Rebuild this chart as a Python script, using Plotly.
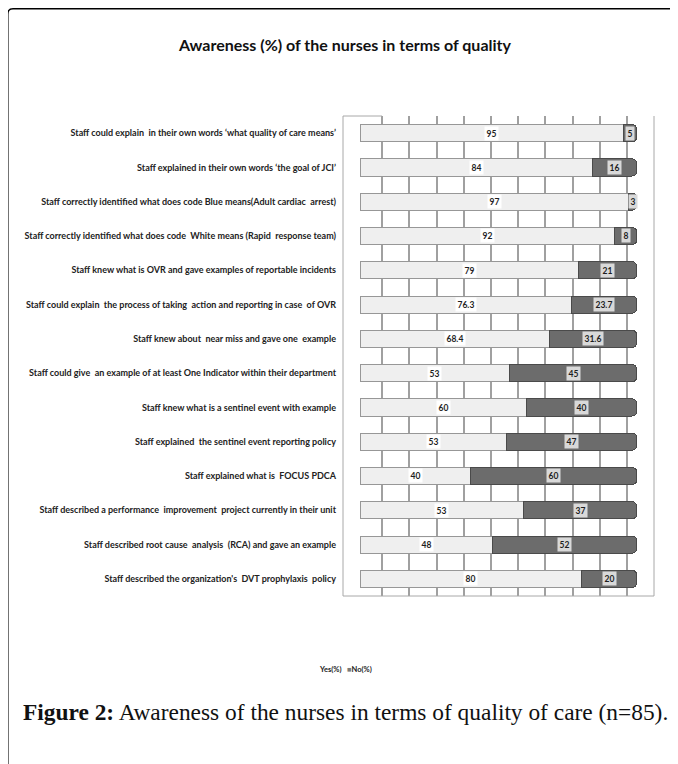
import plotly.graph_objects as go

categories = [
    "Staff could explain  in their own words \u2018what quality of care means\u2019",
    "Staff explained in their own words \u2018the goal of JCI\u2019",
    "Staff correctly identified what does code Blue means(Adult cardiac  arrest)",
    "Staff correctly identified what does code  White means (Rapid  response team)",
    "Staff knew what is OVR and gave examples of reportable incidents",
    "Staff could explain  the process of taking  action and reporting in case  of OVR",
    "Staff knew about  near miss and gave one  example",
    "Staff could give  an example of at least One Indicator within their department",
    "Staff knew what is a sentinel event with example",
    "Staff explained  the sentinel event reporting policy",
    "Staff explained what is  FOCUS PDCA",
    "Staff described a performance  improvement  project currently in their unit",
    "Staff described root cause  analysis  (RCA) and gave an example",
    "Staff described the organization's  DVT prophylaxis  policy",
]
yes_vals = [95, 84, 97, 92, 79, 76.3, 68.4, 53, 60, 53, 40, 53, 48, 80]
no_vals = [5, 16, 3, 8, 21, 23.7, 31.6, 45, 40, 47, 60, 37, 52, 20]
grid_ticks = [10, 20, 30, 40, 50, 60, 70, 80, 90, 100]

title_text = "Awareness (%) of the nurses in terms of quality"
caption_bold = "Figure 2:"
caption_text = " Awareness of the nurses in terms of quality of care (n=85)."

# 100% stacked shares
yes_share = [y / (y + n) * 100 for y, n in zip(yes_vals, no_vals)]
no_share = [n / (y + n) * 100 for y, n in zip(yes_vals, no_vals)]

OFF = 8  # page body margin
W, H = 678 - OFF, 764 - OFF
px = lambda v: (v - OFF) / W
py = lambda v: 1 - (v - OFF) / H

fig = go.Figure()
fig.add_trace(go.Bar(
    y=categories, x=yes_share, orientation="h", name="Yes(%)",
    marker=dict(color="#efefef", line=dict(color="#979797", width=1)),
    width=0.5, showlegend=False, hoverinfo="skip",
))
fig.add_trace(go.Bar(
    y=categories, x=no_share, orientation="h", name="No(%)",
    marker=dict(color="#6c6c6c", line=dict(color="#4a4a4a", width=1)),
    width=0.5, showlegend=False, hoverinfo="skip",
))
# invisible trace on xaxis2 to carry the back-wall gridlines
fig.add_trace(go.Scatter(x=[grid_ticks[0]], y=[categories[0]], xaxis="x2",
                         mode="markers", marker=dict(opacity=0),
                         showlegend=False, hoverinfo="skip"))

annotations = []
lab_font = dict(family="Lato", size=8.5, color="#1e1e1e", weight="bold")
for cat, yv, nv, ys, ns in zip(categories, yes_vals, no_vals, yes_share, no_share):
    annotations.append(dict(x=ys / 2, y=cat, xref="x", yref="y", text=str(yv),
                            xanchor="center", yanchor="middle",
                            showarrow=False, font=lab_font, bgcolor="#ffffff",
                            borderpad=1.5))
    annotations.append(dict(x=ys + ns / 2, y=cat, xref="x", yref="y", text=str(nv),
                            xanchor="center", yanchor="middle",
                            showarrow=False, font=lab_font, bgcolor="#d9d9d9",
                            borderpad=1.5))

annotations.append(dict(x=px(344), y=py(44), xref="paper", yref="paper",
                        xanchor="center", yanchor="middle",
                        text=title_text, showarrow=False,
                        font=dict(family="Lato", size=16, color="#111111", weight="bold")))
annotations.append(dict(x=px(345), y=py(669), xref="paper", yref="paper",
                        xanchor="center", yanchor="middle",
                        text="Yes(%)   <span style='color:#7a7a7a'>\u25a0</span>No(%)",
                        showarrow=False,
                        font=dict(family="Lato", size=7.5, color="#222222", weight="bold")))
annotations.append(dict(x=px(21), y=py(712), xref="paper", yref="paper",
                        xanchor="left", yanchor="middle",
                        text="<b>" + caption_bold + "</b>" + caption_text,
                        showarrow=False,
                        font=dict(family="Liberation Serif", size=23.4, color="#111111")))

shapes = [
    # outer frame: left side, rounded corner, top
    dict(type="path", xref="paper", yref="paper",
         path=f"M {px(7.8)},0 L {px(7.8)},{py(14)} Q {px(7.8)},{py(8.8)} {px(13)},{py(8.8)} L 1,{py(8.8)}",
         line=dict(color="#000000", width=1.5)),
    # plot area box
    dict(type="line", xref="paper", yref="paper", x0=px(343), x1=px(343), y0=py(596), y1=py(116),
         line=dict(color="#a8a8a8", width=1)),
    dict(type="line", xref="paper", yref="paper", x0=px(654), x1=px(654), y0=py(596), y1=py(116),
         line=dict(color="#a8a8a8", width=1)),
    dict(type="line", xref="paper", yref="paper", x0=px(343), x1=px(654), y0=py(596), y1=py(596),
         line=dict(color="#a8a8a8", width=1)),
    dict(type="line", xref="paper", yref="paper", x0=px(343), x1=px(382), y0=py(116), y1=py(116),
         line=dict(color="#a8a8a8", width=1)),
]

fig.update_layout(
    width=W, height=H, margin=dict(l=0, r=0, t=0, b=0, autoexpand=False),
    paper_bgcolor="#ffffff", plot_bgcolor="rgba(0,0,0,0)",
    barmode="stack", bargap=0.5, barcornerradius=5,
    xaxis=dict(domain=[px(343), px(654)], range=[-6.14, 106.14], automargin=False,
               showgrid=False, zeroline=False, showticklabels=False, fixedrange=True),
    xaxis2=dict(overlaying="x", range=[-4.41, 109.93], tickvals=grid_ticks, automargin=False,
                showgrid=True, gridcolor="#a0a0a0", gridwidth=1.5,
                zeroline=False, showticklabels=False, fixedrange=True, side="bottom"),
    yaxis=dict(domain=[py(596), py(116)], type="category", automargin=False,
               categoryarray=categories, range=[13.5, -0.5],
               showgrid=False, zeroline=False, ticks="", ticklabelstandoff=6,
               tickfont=dict(family="Lato", size=9, color="#222222", weight="bold")),
    annotations=annotations, shapes=shapes,
)

fig.write_html("out.html")
